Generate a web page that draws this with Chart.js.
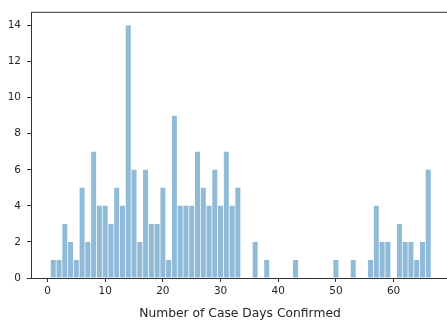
<!DOCTYPE html>
<html>
<head>
<meta charset="utf-8">
<script src="https://cdn.jsdelivr.net/npm/chart.js@4/dist/chart.umd.min.js"></script>
<style>
    html, body { margin: 0; padding: 0; background: #fff; overflow: hidden; }
    #wrap { width: 452px; height: 325px; }
</style>
</head>
<body>
<div id="wrap"><canvas id="hist-chart" width="452" height="325"></canvas></div>
<script>
// histogram of case days, one bin per day
const days = [
    0, 1, 2, 3, 4, 5, 6, 7, 8, 9,
    10, 11, 12, 13, 14, 15, 16, 17, 18, 19,
    20, 21, 22, 23, 24, 25, 26, 27, 28, 29,
    30, 31, 32, 33, 34, 35, 36, 37, 38, 39,
    40, 41, 42, 43, 44, 45, 46, 47, 48, 49,
    50, 51, 52, 53, 54, 55, 56, 57, 58, 59,
    60, 61, 62, 63, 64, 65, 66
]
const counts = [
    0, 1, 1, 3, 2, 1, 5, 2, 7, 4,
    4, 3, 5, 4, 14, 6, 2, 6, 3, 3,
    5, 1, 9, 4, 4, 4, 7, 5, 4, 6,
    4, 7, 4, 5, 0, 0, 2, 0, 1, 0,
    0, 0, 0, 1, 0, 0, 0, 0, 0, 0,
    1, 0, 0, 1, 0, 0, 1, 4, 2, 2,
    0, 3, 2, 2, 1, 2, 6
]
const xTicks = [0, 10, 20, 30, 40, 50, 60]
const yTicks = [0, 2, 4, 6, 8, 10, 12, 14]
const xLimits = [-2.86, 69.6]
const yLimits = [0, 14.73]
const xLabel = 'Number of Case Days Confirmed'

const barColor = '#8fbbd9'
const spineColor = '#333333'
const textColor = '#262626'

// matplotlib draws a top spine too, chart.js doesn't
const topSpine = {
    id: 'topSpine',
    afterDraw(chart) {
        const { ctx, chartArea } = chart
        ctx.save()
        ctx.strokeStyle = spineColor
        ctx.lineWidth = 1
        ctx.beginPath()
        ctx.moveTo(chartArea.left, chartArea.top)
        ctx.lineTo(chartArea.right, chartArea.top)
        ctx.stroke()
        ctx.restore()
    }
}

const points = days.map((d, i) => ({ x: d, y: counts[i] }))

new Chart(document.getElementById('hist-chart'), {
    type: 'bar',
    data: {
        datasets: [{
            data: points,
            backgroundColor: barColor,
            borderWidth: 0,
            categoryPercentage: 1,
            barPercentage: 0.87
        }]
    },
    options: {
        responsive: false,
        animation: false,
        devicePixelRatio: 1,
        layout: { padding: { left: 0, top: 6, right: 3, bottom: 0 } },
        plugins: {
            legend: { display: false },
            tooltip: { enabled: false }
        },
        scales: {
            x: {
                type: 'linear',
                min: xLimits[0],
                max: xLimits[1],
                offset: false,
                grid: { display: true, drawOnChartArea: false, offset: false, tickLength: 4, tickColor: spineColor },
                border: { display: true, color: spineColor, width: 1 },
                afterBuildTicks: scale => { scale.ticks = xTicks.map(v => ({ value: v })) },
                afterFit: scale => { scale.height = 47 },
                ticks: {
                    padding: 3,
                    maxRotation: 0,
                    color: textColor,
                    font: { family: 'DejaVu Sans', size: 10.5 }
                },
                title: {
                    display: true,
                    text: xLabel,
                    color: textColor,
                    padding: { top: 0, bottom: 4 },
                    font: { family: 'DejaVu Sans', size: 12.3 }
                }
            },
            y: {
                min: yLimits[0],
                max: yLimits[1],
                grid: { display: true, drawOnChartArea: false, tickLength: 4, tickColor: spineColor },
                border: { display: true, color: spineColor, width: 1 },
                afterBuildTicks: scale => { scale.ticks = yTicks.map(v => ({ value: v })) },
                afterFit: scale => { scale.width = 31 },
                ticks: {
                    padding: 6,
                    color: textColor,
                    font: { family: 'DejaVu Sans', size: 10.5 }
                }
            }
        }
    },
    plugins: [topSpine]
})
</script>
</body>
</html>
